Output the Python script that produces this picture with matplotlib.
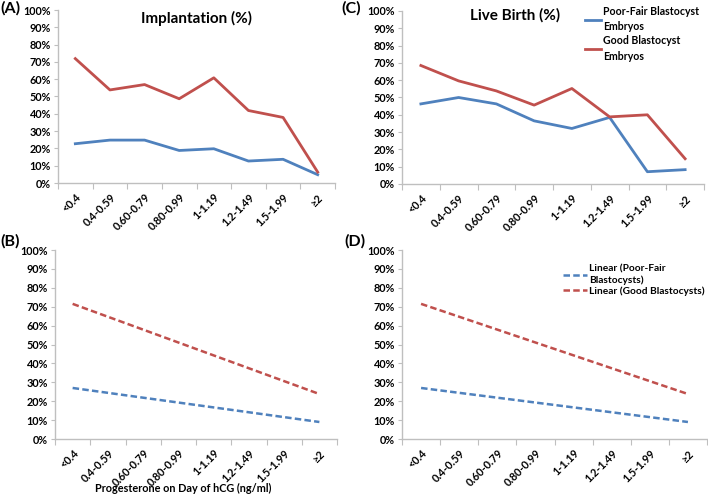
import matplotlib
matplotlib.use("Agg")
import matplotlib.pyplot as plt
from matplotlib.lines import Line2D

plt.rcParams['font.family'] = ['Lato', 'DejaVu Sans']

categories = ["<0.4", "0.4-0.59", "0.60-0.79", "0.80-0.99", "1-1.19", "1.2-1.49", "1.5-1.99", "\u22652"]

impl_poor = [22.7, 24.8, 24.8, 18.8, 19.8, 12.7, 13.7, 4.8]
impl_good = [71.9, 53.8, 56.9, 48.7, 60.8, 41.9, 37.9, 6.3]

live_poor = [46.3, 50.0, 46.3, 36.5, 32.1, 38.5, 7.1, 8.3]
live_good = [68.5, 59.6, 53.8, 45.6, 55.2, 38.8, 40.0, 14.6]

# linear trendline values at first and last category
trend_poor = [27.0, 9.0]
trend_good = [71.5, 23.8]

yticks = [0, 10, 20, 30, 40, 50, 60, 70, 80, 90, 100]
ytick_labels = [f"{v}%" for v in yticks]

BLUE = "#4F81BD"
RED = "#C0504D"
AXC = "#BFBFBF"
TICKFS = 7.8
DASH = (0, (2.6, 1.3))

W, H = 708, 494
fig = plt.figure(figsize=(W / 100, H / 100), dpi=100)


def make_ax(l, r, t, b):
    return fig.add_axes([l / W, 1 - b / H, (r - l) / W, (b - t) / H])


def style(ax):
    n = len(categories)
    ax.set_xlim(-0.5, n - 0.5)
    ax.set_ylim(0, 100)
    for s in ["top", "right"]:
        ax.spines[s].set_visible(False)
    for s in ["left", "bottom"]:
        ax.spines[s].set_color(AXC)
        ax.spines[s].set_linewidth(1.0)
    ax.set_yticks(yticks)
    ax.set_yticklabels(ytick_labels, fontsize=TICKFS, fontweight='bold')
    ax.tick_params(axis='y', length=3, color=AXC, pad=2)
    # x major ticks at boundaries (marks only), minor at centers (labels)
    ax.set_xticks([i - 0.5 for i in range(n + 1)])
    ax.set_xticklabels([])
    ax.tick_params(axis='x', which='major', length=4, color=AXC)
    ax.set_xticks(range(n), minor=True)
    ax.set_xticklabels(categories, minor=True, rotation=45, ha='right',
                       rotation_mode='anchor', fontsize=TICKFS, fontweight='bold')
    ax.tick_params(axis='x', which='minor', length=0, pad=6)


x = list(range(len(categories)))

axA = make_ax(58, 335, 10, 183)
style(axA)
axA.plot(x, impl_poor, color=BLUE, lw=2)
axA.plot(x, impl_good, color=RED, lw=2)
axA.text(0.5, 0.95, "Implantation (%)", transform=axA.transAxes, ha='center', va='center',
         fontsize=11, fontweight='bold')

axC = make_ax(402, 704, 11, 184)
style(axC)
axC.plot(x, live_poor, color=BLUE, lw=2)
axC.plot(x, live_good, color=RED, lw=2)
axC.text(0.375, 0.975, "Live Birth (%)", transform=axC.transAxes, ha='center', va='center',
         fontsize=11, fontweight='bold')
h1 = Line2D([], [], color=BLUE, lw=2)
h2 = Line2D([], [], color=RED, lw=2)
legC = axC.legend([h1, h2], ["Poor-Fair Blastocyst\nEmbryos", "Good Blastocyst\nEmbryos"],
                  loc='upper left', bbox_to_anchor=((581 - 402) / 302, 1.055), frameon=False,
                  prop={'size': 7.6, 'weight': 'bold'}, handlelength=1.45, handletextpad=0.25,
                  labelspacing=0.35, borderaxespad=0)
for t in legC.get_texts():
    t.set_linespacing(1.45)

first_last = [0, len(categories) - 1]

axB = make_ax(55, 337, 250, 439)
style(axB)
axB.plot(first_last, trend_poor, color=BLUE, lw=1.8, ls=DASH)
axB.plot(first_last, trend_good, color=RED, lw=1.8, ls=DASH)
fig.text(183 / W, 1 - 488 / H, "Progesterone on Day of hCG (ng/ml)", ha='center', va='center',
         fontsize=7.8, fontweight='bold')

axD = make_ax(402, 707, 250, 439)
style(axD)
axD.plot(first_last, trend_poor, color=BLUE, lw=1.8, ls=DASH)
axD.plot(first_last, trend_good, color=RED, lw=1.8, ls=DASH)
d1 = Line2D([], [], color=BLUE, lw=1.8, ls=DASH)
d2 = Line2D([], [], color=RED, lw=1.8, ls=DASH)
legD = axD.legend([d1, d2], ["Linear (Poor-Fair\nBlastocysts)", "Linear (Good Blastocysts)"],
                  loc='upper left', bbox_to_anchor=((559 - 402) / 305, 0.945), frameon=False,
                  prop={'size': 7.3, 'weight': 'bold'}, handlelength=2.4, handletextpad=0.15,
                  labelspacing=0.1, borderaxespad=0)
for t in legD.get_texts():
    t.set_linespacing(1.3)

for lbl, px, py in [("(A)", 0, 8), ("(C)", 341, 8), ("(B)", 0, 241), ("(D)", 344, 241)]:
    fig.text(px / W, 1 - py / H, lbl, ha='left', va='center', fontsize=11.5, fontweight='bold')

fig.savefig("out.png", dpi=100)
